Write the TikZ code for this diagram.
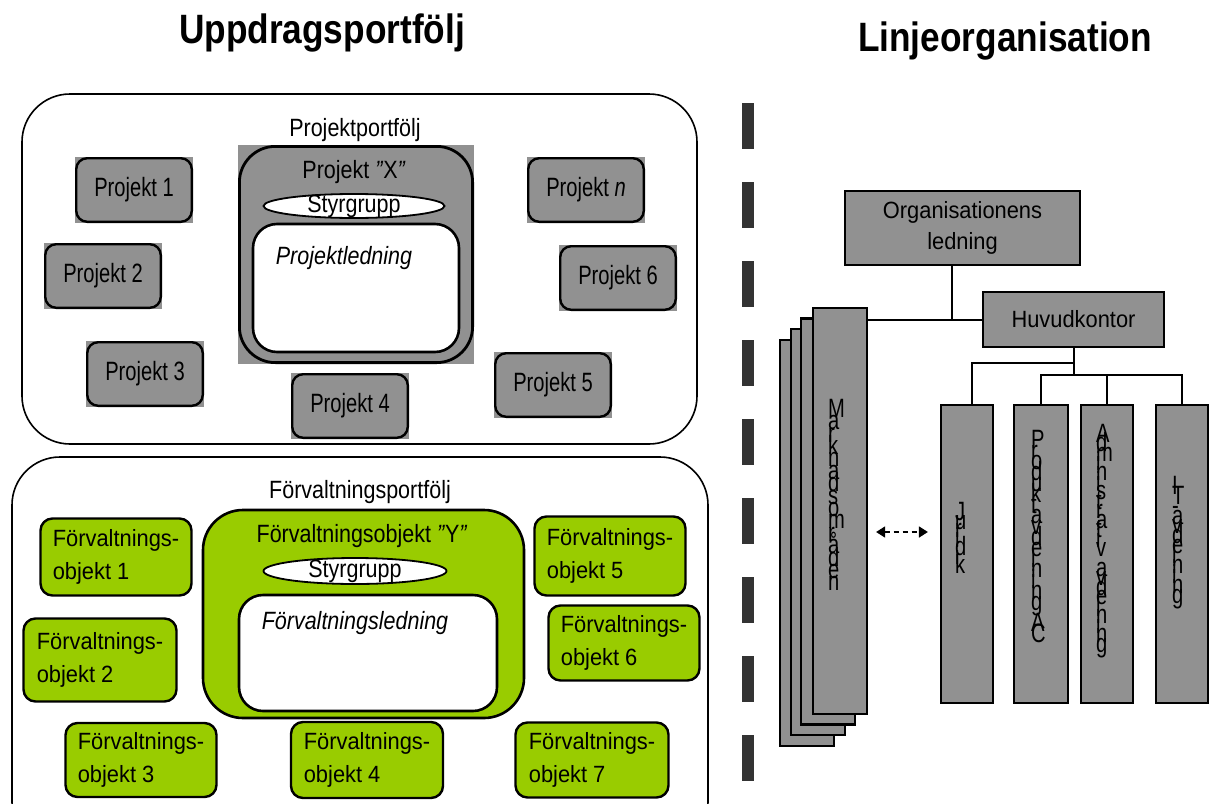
\documentclass[tikz,border=0pt]{standalone}
\usepackage{fontspec}
\setmainfont{Liberation Sans}[FakeStretch=0.86]
\newfontfamily\titlefont{Liberation Sans}[FakeStretch=0.86]
\newfontfamily\narrowfont{Liberation Sans}[FakeStretch=0.76]
\newfontfamily\widefont{Liberation Sans}[FakeStretch=0.93]
\usetikzlibrary{calc,arrows.meta,shapes.geometric}
\definecolor{boxgray}{RGB}{145,145,145}
\definecolor{objgreen}{RGB}{153,204,0}
\definecolor{dashgray}{RGB}{51,51,51}
\newcommand\vstk[2]{\vbox{\narrowfont\fontsize{26.5}{30}\selectfont\baselineskip=#1\lineskiplimit=-100pt\lineskip=0pt\halign{##\hfil\cr#2}}}
\tikzset{
  every node/.style={font=\fontsize{25}{31}\selectfont},
  title/.style={font=\titlefont\bfseries\fontsize{41}{46}\selectfont, inner sep=0},
  portfolio/.style={draw, line width=1.6pt, rounded corners=48pt, inner sep=0},
  plabel/.style={inner sep=0},
  pbox/.style={fill=boxgray, inner sep=0, minimum width=118pt, minimum height=66pt,
    font=\narrowfont\fontsize{26.5}{31}\selectfont,
    path picture={\draw[line width=2.4pt, rounded corners=11pt]
      ([shift={(1.2pt,1.2pt)}]path picture bounding box.south west) rectangle
      ([shift={(-1.2pt,-1.2pt)}]path picture bounding box.north east);}},
  pxbox/.style={fill=boxgray, inner sep=0,
    path picture={\draw[line width=2.8pt, rounded corners=36pt]
      ([shift={(1.4pt,1.4pt)}]path picture bounding box.south west) rectangle
      ([shift={(-1.4pt,-1.4pt)}]path picture bounding box.north east);}},
  gbox/.style={draw, line width=2.4pt, fill=objgreen, rounded corners=12pt, inner sep=0,
    align=left, font=\widefont\fontsize{23.5}{33}\selectfont},
  gxbox/.style={draw, line width=2.6pt, fill=objgreen, rounded corners=40pt, inner sep=0},
  whitebox/.style={draw, line width=2.6pt, fill=white, rounded corners=24pt, inner sep=0},
  sgell/.style={ellipse, draw, line width=1.8pt, fill=white, inner sep=0},
  orgbox/.style={draw, line width=2.2pt, fill=boxgray, inner sep=0, align=center,
    font=\widefont\fontsize{23.5}{31}\selectfont},
  conn/.style={line width=2pt},
  vtext/.style={inner sep=0, anchor=north west},
  arr/.style={line width=1.6pt, dash pattern=on 5pt off 4pt,
    {Triangle[width=11pt,length=9pt]}-{Triangle[width=11pt,length=9pt]}},
}
\begin{document}
\begin{tikzpicture}[x=1pt,y=-1pt]
\useasboundingbox (0,0) rectangle (1209,803);
\clip (0,0) rectangle (1209,803);

% titles
\node[title, anchor=base] (t1) at (322,43) {Uppdragsportfölj};
\node[title, anchor=base] (t2) at (1005,51) {Linjeorganisation};

% separator
\draw[dashgray, line width=12pt, dash pattern=on 46pt off 33pt] (748,103) -- (748,783);

% ---------- Projektportfölj ----------
\node[portfolio, minimum width=675pt, minimum height=350pt] (pp) at (359.5,269) {};
\node[plabel] (ppl) at (355,130) {Projektportfölj};

\node[pxbox, minimum width=236pt, minimum height=219pt] (px) at (356,254.5) {};
\node[plabel] (pxl) at (354,172) {Projekt \textit{"}X\textit{"}};
\node[sgell, minimum width=181pt, minimum height=24pt, label=center:Styrgrupp] (sg1) at (354,206) {};
\node[whitebox, minimum width=206pt, minimum height=128pt] (pl) at (356,288) {};
\node[plabel] (pll) at (344,258) {\itshape Projektledning};

\node[pbox] (p1) at (134,190) {Projekt 1};
\node[pbox] (p2) at (103,276) {Projekt 2};
\node[pbox] (p3) at (145,374) {Projekt 3};
\node[pbox] (p4) at (350,406) {Projekt 4};
\node[pbox] (p5) at (553,385) {Projekt 5};
\node[pbox] (p6) at (618,278) {Projekt 6};
\node[pbox] (pn) at (586,190) {Projekt \textit{n}};

% ---------- Förvaltningsportfölj ----------
\node[portfolio, minimum width=696pt, minimum height=393pt] (fp) at (360,653.5) {};
\node[plabel] (fpl) at (360,492) {Förvaltningsportfölj};

\node[gxbox, minimum width=321pt, minimum height=208pt] (fx) at (363.5,614) {};
\node[plabel] (fxl) at (362,536) {Förvaltningsobjekt \textit{"}Y\textit{"}};
\node[sgell, minimum width=183pt, minimum height=26pt, label=center:Styrgrupp] (sg2) at (355,571) {};
\node[whitebox, minimum width=258pt, minimum height=116pt] (fl) at (368,653) {};
\node[plabel] (fll) at (355,623) {\itshape Förvaltningsledning};

\node[gbox, minimum width=151pt, minimum height=77pt] (f1) at (116,557) {Förvaltnings-\\objekt 1};
\node[gbox, minimum width=153pt, minimum height=83pt] (f2) at (100,660) {Förvaltnings-\\objekt 2};
\node[gbox, minimum width=151pt, minimum height=74pt] (f3) at (141,760) {Förvaltnings-\\objekt 3};
\node[gbox, minimum width=152pt, minimum height=76pt] (f4) at (367,760) {Förvaltnings-\\objekt 4};
\node[gbox, minimum width=151pt, minimum height=79pt] (f5) at (610,556) {Förvaltnings-\\objekt 5};
\node[gbox, minimum width=151pt, minimum height=75pt] (f6) at (624,643) {Förvaltnings-\\objekt 6};
\node[gbox, minimum width=153pt, minimum height=75pt] (f7) at (592,760) {Förvaltnings-\\objekt 7};

% ---------- Linjeorganisation ----------
\node[orgbox, minimum width=235pt, minimum height=74pt] (org) at (962.5,228) {Organisationens\\ledning};
\node[orgbox, minimum width=181pt, minimum height=55pt] (huv) at (1073.5,319.5) {Huvudkontor};

\node[orgbox, minimum width=54pt, minimum height=406pt] (mk4) at (807,543) {};
\node[orgbox, minimum width=54pt, minimum height=406pt] (mk3) at (818,532) {};
\node[orgbox, minimum width=54pt, minimum height=406pt] (mk2) at (828,521.5) {};
\node[orgbox, minimum width=54pt, minimum height=406pt] (mk1) at (840,511) {};

\node[orgbox, minimum width=52pt, minimum height=298pt] (jur) at (967,554) {};
\node[orgbox, minimum width=54pt, minimum height=298pt] (prod) at (1041,554) {};
\node[orgbox, minimum width=52pt, minimum height=298pt] (adm) at (1107,554) {};
\node[orgbox, minimum width=52pt, minimum height=298pt] (it) at (1182,554) {};

\node[vtext] (mkt) at ($(mk1.north west)+(16,92)$) {\vstk{12.4pt}{M\cr a\cr r\cr k\cr n\cr a\cr d\cr s\cr o\cr m\cr r\cr å\cr d\cr e\cr n\cr}};
\node[vtext] (jurt) at ($(jur.north west)+(15,98)$) {\vstk{8.8pt}{J\cr u\cr r\cr i\cr d\cr i\cr k\cr}};
\node[vtext] (prodt) at ($(prod.north west)+(18,26)$) {\vstk{10.8pt}{P\cr r\cr o\cr d\cr u\cr k\cr t\cr a\cr v\cr d\cr e\cr l\cr n\cr i\cr n\cr g\cr \cr A\cr C\cr}};
\node[vtext] (admt) at ($(adm.north west)+(16,20)$) {\vstk{9.55pt}{A\cr d\cr m\cr i\cr n\cr i\cr s\cr t\cr r\cr a\cr t\cr i\cr v\cr \cr a\cr v\cr d\cr e\cr l\cr n\cr i\cr n\cr g\cr}};
\node[vtext] (itt) at ($(it.north west)+(17,72)$) {\vstk{9.9pt}{I\cr T\cr -\cr a\cr v\cr d\cr e\cr l\cr n\cr i\cr n\cr g\cr}};

% connectors
\coordinate (jA) at ($(huv.south)+(0,15)$);
\coordinate (jB) at ($(huv.south)+(0,27)$);
\draw[conn] ([xshift=-11pt]org.south) -- ([xshift=-11pt]org.south |- huv.west);
\draw[conn] (mk1.east |- huv.west) -- (huv.west);
\draw[conn] (huv.south) -- (jB);
\draw[conn] (jA) -| ([xshift=5pt]jur.north);
\draw[conn] (prod.north) |- (jB) -| (it.north);
\draw[conn] (adm.north) -- (adm.north |- jB);

\draw[arr] ($(mk1.east)+(8,21)$) -- ($(jur.west)+(-12,-22)$);
\end{tikzpicture}
\end{document}
